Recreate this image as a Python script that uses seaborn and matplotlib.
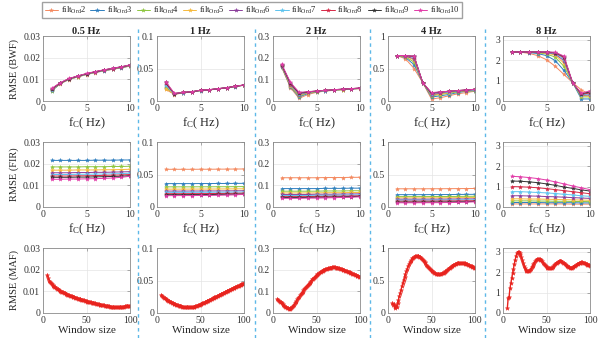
import matplotlib
matplotlib.use("Agg")
import matplotlib.pyplot as plt
from matplotlib.lines import Line2D
import seaborn as sns
import numpy as np

# ---------------- data ----------------
freqs = ["0.5 Hz", "1 Hz", "2 Hz", "4 Hz", "8 Hz"]
orders = ["2", "3", "4", "5", "6", "7", "8", "9", "10"]
fc = [1, 2, 3, 4, 5, 6, 7, 8, 9, 10]
window = list(range(5, 101))

bwf_05 = [
    [0.0050, 0.0080, 0.0099, 0.0111, 0.0122, 0.0131, 0.0139, 0.0146, 0.0153, 0.0161],
    [0.0046, 0.0081, 0.0100, 0.0112, 0.0123, 0.0132, 0.0140, 0.0147, 0.0154, 0.0162],
    [0.0048, 0.0081, 0.0101, 0.0113, 0.0124, 0.0133, 0.0141, 0.0148, 0.0155, 0.0163],
    [0.0050, 0.0082, 0.0101, 0.0113, 0.0124, 0.0133, 0.0141, 0.0149, 0.0156, 0.0164],
    [0.0052, 0.0082, 0.0102, 0.0114, 0.0125, 0.0134, 0.0142, 0.0149, 0.0156, 0.0164],
    [0.0053, 0.0083, 0.0102, 0.0114, 0.0125, 0.0134, 0.0142, 0.0150, 0.0157, 0.0165],
    [0.0055, 0.0083, 0.0103, 0.0115, 0.0126, 0.0135, 0.0143, 0.0150, 0.0157, 0.0165],
    [0.0056, 0.0084, 0.0103, 0.0115, 0.0126, 0.0135, 0.0143, 0.0151, 0.0158, 0.0166],
    [0.0058, 0.0085, 0.0104, 0.0116, 0.0127, 0.0136, 0.0144, 0.0151, 0.0158, 0.0167],
]
bwf_1 = [
    [0.0180, 0.0100, 0.0125, 0.0138, 0.0160, 0.0170, 0.0185, 0.0200, 0.0222, 0.0242],
    [0.0205, 0.0105, 0.0127, 0.0139, 0.0161, 0.0171, 0.0186, 0.0201, 0.0223, 0.0243],
    [0.0220, 0.0108, 0.0128, 0.0140, 0.0162, 0.0172, 0.0187, 0.0202, 0.0224, 0.0244],
    [0.0190, 0.0110, 0.0129, 0.0141, 0.0162, 0.0172, 0.0187, 0.0203, 0.0224, 0.0245],
    [0.0250, 0.0112, 0.0130, 0.0142, 0.0163, 0.0173, 0.0188, 0.0203, 0.0225, 0.0245],
    [0.0240, 0.0113, 0.0130, 0.0142, 0.0163, 0.0173, 0.0188, 0.0204, 0.0225, 0.0246],
    [0.0270, 0.0114, 0.0131, 0.0143, 0.0164, 0.0174, 0.0189, 0.0204, 0.0226, 0.0246],
    [0.0285, 0.0115, 0.0131, 0.0143, 0.0164, 0.0174, 0.0189, 0.0205, 0.0226, 0.0247],
    [0.0300, 0.0116, 0.0132, 0.0144, 0.0165, 0.0175, 0.0190, 0.0205, 0.0227, 0.0248],
]
bwf_2 = [
    [0.155, 0.062, 0.012, 0.030, 0.040, 0.046, 0.049, 0.052, 0.055, 0.057],
    [0.158, 0.066, 0.018, 0.035, 0.042, 0.047, 0.050, 0.053, 0.055, 0.058],
    [0.160, 0.068, 0.023, 0.038, 0.043, 0.047, 0.050, 0.053, 0.056, 0.058],
    [0.162, 0.071, 0.027, 0.039, 0.044, 0.048, 0.051, 0.053, 0.056, 0.058],
    [0.163, 0.074, 0.030, 0.040, 0.045, 0.048, 0.051, 0.054, 0.056, 0.059],
    [0.165, 0.077, 0.033, 0.041, 0.045, 0.048, 0.051, 0.054, 0.056, 0.059],
    [0.166, 0.080, 0.035, 0.042, 0.046, 0.049, 0.052, 0.054, 0.057, 0.059],
    [0.167, 0.083, 0.037, 0.042, 0.046, 0.049, 0.052, 0.055, 0.057, 0.060],
    [0.170, 0.086, 0.040, 0.043, 0.046, 0.049, 0.052, 0.055, 0.057, 0.060],
]
bwf_4 = [
    [0.70, 0.65, 0.50, 0.28, 0.03, 0.05, 0.08, 0.11, 0.13, 0.15],
    [0.70, 0.67, 0.56, 0.28, 0.06, 0.08, 0.10, 0.13, 0.15, 0.16],
    [0.70, 0.68, 0.60, 0.28, 0.08, 0.10, 0.12, 0.14, 0.15, 0.16],
    [0.70, 0.69, 0.63, 0.28, 0.09, 0.11, 0.13, 0.15, 0.16, 0.17],
    [0.70, 0.69, 0.65, 0.28, 0.10, 0.12, 0.14, 0.15, 0.16, 0.17],
    [0.70, 0.70, 0.67, 0.28, 0.11, 0.13, 0.14, 0.15, 0.17, 0.17],
    [0.70, 0.70, 0.68, 0.28, 0.12, 0.13, 0.15, 0.16, 0.17, 0.18],
    [0.70, 0.70, 0.69, 0.28, 0.12, 0.14, 0.15, 0.16, 0.17, 0.18],
    [0.70, 0.70, 0.69, 0.28, 0.13, 0.14, 0.15, 0.16, 0.17, 0.18],
]
bwf_8 = [
    [2.40, 2.39, 2.33, 2.22, 2.02, 1.70, 1.30, 0.90, 0.55, 0.30],
    [2.40, 2.40, 2.37, 2.32, 2.22, 1.98, 1.50, 0.90, 0.10, 0.10],
    [2.40, 2.40, 2.39, 2.36, 2.30, 2.15, 1.70, 0.90, 0.20, 0.20],
    [2.40, 2.40, 2.40, 2.38, 2.34, 2.25, 1.85, 0.90, 0.25, 0.25],
    [2.40, 2.40, 2.40, 2.39, 2.36, 2.30, 1.97, 0.90, 0.28, 0.30],
    [2.40, 2.40, 2.40, 2.40, 2.38, 2.33, 2.05, 0.90, 0.30, 0.35],
    [2.40, 2.40, 2.40, 2.40, 2.39, 2.35, 2.12, 0.90, 0.32, 0.40],
    [2.40, 2.40, 2.40, 2.40, 2.40, 2.37, 2.17, 0.90, 0.35, 0.45],
    [2.40, 2.40, 2.40, 2.40, 2.40, 2.38, 2.20, 0.90, 0.38, 0.50],
]

fir_05 = [
    [0.0345, 0.0345, 0.0345, 0.0345, 0.0345, 0.0346, 0.0346, 0.0346, 0.0347, 0.0347],
    [0.0215, 0.0215, 0.0215, 0.0215, 0.0215, 0.0216, 0.0216, 0.0216, 0.0217, 0.0217],
    [0.0185, 0.0185, 0.0185, 0.0185, 0.0186, 0.0186, 0.0186, 0.0187, 0.0187, 0.0188],
    [0.0170, 0.0170, 0.0170, 0.0171, 0.0171, 0.0171, 0.0172, 0.0172, 0.0173, 0.0174],
    [0.0158, 0.0158, 0.0158, 0.0159, 0.0159, 0.0160, 0.0160, 0.0161, 0.0162, 0.0163],
    [0.0150, 0.0150, 0.0150, 0.0151, 0.0151, 0.0152, 0.0152, 0.0153, 0.0154, 0.0156],
    [0.0143, 0.0143, 0.0143, 0.0144, 0.0144, 0.0145, 0.0146, 0.0147, 0.0148, 0.0150],
    [0.0137, 0.0137, 0.0137, 0.0138, 0.0138, 0.0139, 0.0140, 0.0141, 0.0142, 0.0145],
    [0.0128, 0.0128, 0.0129, 0.0129, 0.0130, 0.0131, 0.0132, 0.0134, 0.0137, 0.0142],
]
fir_1 = [
    [0.0580, 0.0580, 0.0580, 0.0580, 0.0581, 0.0581, 0.0582, 0.0583, 0.0584, 0.0585],
    [0.0360, 0.0360, 0.0360, 0.0360, 0.0361, 0.0361, 0.0362, 0.0362, 0.0363, 0.0364],
    [0.0310, 0.0310, 0.0310, 0.0310, 0.0311, 0.0311, 0.0312, 0.0312, 0.0313, 0.0314],
    [0.0275, 0.0275, 0.0275, 0.0276, 0.0276, 0.0276, 0.0277, 0.0278, 0.0279, 0.0280],
    [0.0245, 0.0245, 0.0245, 0.0246, 0.0246, 0.0247, 0.0247, 0.0248, 0.0249, 0.0250],
    [0.0225, 0.0225, 0.0225, 0.0226, 0.0226, 0.0227, 0.0227, 0.0228, 0.0229, 0.0231],
    [0.0205, 0.0205, 0.0205, 0.0206, 0.0206, 0.0207, 0.0208, 0.0209, 0.0211, 0.0214],
    [0.0190, 0.0190, 0.0190, 0.0191, 0.0191, 0.0192, 0.0193, 0.0195, 0.0197, 0.0200],
    [0.0175, 0.0175, 0.0176, 0.0176, 0.0177, 0.0178, 0.0180, 0.0183, 0.0187, 0.0195],
]
fir_2 = [
    [0.135, 0.135, 0.135, 0.135, 0.135, 0.136, 0.136, 0.136, 0.137, 0.137],
    [0.085, 0.085, 0.085, 0.085, 0.085, 0.086, 0.086, 0.086, 0.087, 0.087],
    [0.073, 0.073, 0.073, 0.073, 0.073, 0.074, 0.074, 0.074, 0.075, 0.075],
    [0.065, 0.065, 0.065, 0.065, 0.065, 0.066, 0.066, 0.066, 0.067, 0.067],
    [0.058, 0.058, 0.058, 0.058, 0.059, 0.059, 0.059, 0.060, 0.060, 0.061],
    [0.053, 0.053, 0.053, 0.053, 0.054, 0.054, 0.054, 0.055, 0.055, 0.056],
    [0.048, 0.048, 0.048, 0.048, 0.049, 0.049, 0.050, 0.050, 0.051, 0.052],
    [0.044, 0.044, 0.044, 0.044, 0.045, 0.045, 0.046, 0.047, 0.048, 0.049],
    [0.040, 0.040, 0.040, 0.041, 0.041, 0.042, 0.043, 0.044, 0.045, 0.047],
]
fir_4 = [
    [0.280, 0.280, 0.280, 0.280, 0.281, 0.281, 0.282, 0.283, 0.284, 0.285],
    [0.190, 0.190, 0.190, 0.190, 0.191, 0.191, 0.192, 0.193, 0.194, 0.195],
    [0.160, 0.160, 0.160, 0.160, 0.161, 0.161, 0.162, 0.163, 0.164, 0.165],
    [0.140, 0.140, 0.140, 0.140, 0.141, 0.141, 0.142, 0.143, 0.144, 0.145],
    [0.120, 0.120, 0.120, 0.120, 0.121, 0.121, 0.122, 0.123, 0.124, 0.125],
    [0.105, 0.105, 0.105, 0.105, 0.106, 0.106, 0.107, 0.108, 0.109, 0.110],
    [0.090, 0.090, 0.090, 0.091, 0.091, 0.092, 0.093, 0.094, 0.095, 0.097],
    [0.075, 0.075, 0.075, 0.076, 0.076, 0.077, 0.078, 0.080, 0.082, 0.085],
    [0.065, 0.065, 0.065, 0.066, 0.066, 0.067, 0.069, 0.071, 0.075, 0.080],
]
fir_8 = [
    [0.15, 0.15, 0.15, 0.15, 0.15, 0.15, 0.15, 0.14, 0.14, 0.14],
    [0.22, 0.22, 0.22, 0.22, 0.21, 0.21, 0.21, 0.21, 0.20, 0.20],
    [0.30, 0.30, 0.30, 0.29, 0.29, 0.28, 0.28, 0.27, 0.27, 0.26],
    [0.40, 0.40, 0.39, 0.39, 0.38, 0.37, 0.36, 0.35, 0.34, 0.33],
    [0.55, 0.55, 0.54, 0.53, 0.51, 0.50, 0.48, 0.46, 0.44, 0.42],
    [0.75, 0.75, 0.73, 0.71, 0.69, 0.66, 0.62, 0.59, 0.55, 0.52],
    [1.00, 0.99, 0.97, 0.94, 0.90, 0.85, 0.80, 0.75, 0.70, 0.65],
    [1.27, 1.26, 1.23, 1.19, 1.13, 1.06, 0.98, 0.91, 0.84, 0.78],
    [1.50, 1.48, 1.44, 1.39, 1.32, 1.23, 1.13, 1.03, 0.94, 0.85],
]

maf_05 = [
    0.0175, 0.0160, 0.0150, 0.0143, 0.0138, 0.0133, 0.0129, 0.0125, 0.0121, 0.0118,
    0.0115, 0.0112, 0.0109, 0.0106, 0.0103, 0.0101, 0.0099, 0.0097, 0.0095, 0.0093,
    0.0091, 0.0089, 0.0087, 0.0085, 0.0083, 0.0081, 0.0080, 0.0078, 0.0077, 0.0075,
    0.0074, 0.0072, 0.0071, 0.0069, 0.0068, 0.0066, 0.0065, 0.0064, 0.0063, 0.0061,
    0.0060, 0.0059, 0.0058, 0.0057, 0.0055, 0.0054, 0.0053, 0.0052, 0.0051, 0.0050,
    0.0049, 0.0048, 0.0047, 0.0046, 0.0045, 0.0044, 0.0043, 0.0042, 0.0041, 0.0040,
    0.0039, 0.0038, 0.0037, 0.0036, 0.0035, 0.0035, 0.0034, 0.0033, 0.0033, 0.0032,
    0.0031, 0.0031, 0.0030, 0.0030, 0.0030, 0.0029, 0.0029, 0.0029, 0.0029, 0.0029,
    0.0029, 0.0029, 0.0029, 0.0029, 0.0029, 0.0029, 0.0030, 0.0030, 0.0030, 0.0031,
    0.0031, 0.0031, 0.0032, 0.0032, 0.0033, 0.0033,
]
maf_1 = [
    0.0280, 0.0265, 0.0251, 0.0238, 0.0226, 0.0215, 0.0205, 0.0196, 0.0188, 0.0180,
    0.0172, 0.0165, 0.0158, 0.0152, 0.0146, 0.0140, 0.0135, 0.0130, 0.0125, 0.0120,
    0.0115, 0.0111, 0.0107, 0.0103, 0.0100, 0.0097, 0.0094, 0.0092, 0.0090, 0.0089,
    0.0088, 0.0088, 0.0088, 0.0089, 0.0090, 0.0092, 0.0094, 0.0097, 0.0100, 0.0104,
    0.0108, 0.0113, 0.0118, 0.0123, 0.0129, 0.0135, 0.0141, 0.0147, 0.0153, 0.0159,
    0.0165, 0.0171, 0.0178, 0.0184, 0.0191, 0.0198, 0.0205, 0.0212, 0.0218, 0.0225,
    0.0232, 0.0239, 0.0246, 0.0253, 0.0259, 0.0266, 0.0273, 0.0280, 0.0286, 0.0293,
    0.0300, 0.0307, 0.0313, 0.0320, 0.0326, 0.0333, 0.0339, 0.0346, 0.0352, 0.0359,
    0.0365, 0.0371, 0.0377, 0.0384, 0.0390, 0.0396, 0.0402, 0.0409, 0.0415, 0.0421,
    0.0428, 0.0434, 0.0441, 0.0447, 0.0453, 0.0460,
]
maf_2 = [
    0.065, 0.061, 0.057, 0.053, 0.049, 0.045, 0.041, 0.037, 0.034, 0.030,
    0.027, 0.024, 0.022, 0.020, 0.020, 0.021, 0.024, 0.028, 0.033, 0.039,
    0.045, 0.051, 0.057, 0.063, 0.069, 0.075, 0.081, 0.087, 0.093, 0.099,
    0.105, 0.110, 0.115, 0.120, 0.125, 0.130, 0.135, 0.140, 0.145, 0.150,
    0.155, 0.159, 0.163, 0.167, 0.171, 0.175, 0.178, 0.181, 0.184, 0.187,
    0.190, 0.193, 0.195, 0.198, 0.200, 0.202, 0.204, 0.205, 0.206, 0.208,
    0.209, 0.210, 0.210, 0.211, 0.211, 0.211, 0.211, 0.210, 0.210, 0.209,
    0.208, 0.207, 0.205, 0.204, 0.202, 0.200, 0.199, 0.197, 0.195, 0.194,
    0.192, 0.190, 0.188, 0.187, 0.185, 0.183, 0.181, 0.179, 0.178, 0.176,
    0.174, 0.172, 0.170, 0.169, 0.167, 0.165,
]
maf_4 = [
    0.150, 0.120, 0.140, 0.070, 0.110, 0.100, 0.160, 0.200, 0.260, 0.310,
    0.360, 0.410, 0.460, 0.510, 0.560, 0.600, 0.640, 0.680, 0.720, 0.750,
    0.780, 0.800, 0.820, 0.840, 0.850, 0.860, 0.870, 0.870, 0.875, 0.875,
    0.870, 0.865, 0.855, 0.845, 0.830, 0.815, 0.800, 0.780, 0.765, 0.745,
    0.730, 0.710, 0.695, 0.680, 0.665, 0.650, 0.640, 0.630, 0.620, 0.613,
    0.607, 0.603, 0.600, 0.598, 0.598, 0.600, 0.603, 0.608, 0.615, 0.623,
    0.632, 0.642, 0.652, 0.663, 0.674, 0.685, 0.696, 0.707, 0.717, 0.727,
    0.736, 0.744, 0.751, 0.757, 0.762, 0.766, 0.769, 0.771, 0.772, 0.772,
    0.771, 0.769, 0.766, 0.762, 0.758, 0.753, 0.748, 0.742, 0.736, 0.730,
    0.724, 0.718, 0.712, 0.706, 0.700, 0.694,
]
maf_8 = [
    0.25, 0.75, 0.80, 1.20, 1.45, 1.70, 1.95, 2.15, 2.40, 2.60,
    2.80, 2.92, 3.00, 3.00, 2.95, 2.85, 2.72, 2.58, 2.44, 2.31,
    2.20, 2.12, 2.07, 2.05, 2.05, 2.07, 2.11, 2.17, 2.24, 2.32,
    2.40, 2.47, 2.53, 2.58, 2.62, 2.64, 2.65, 2.64, 2.61, 2.57,
    2.52, 2.46, 2.40, 2.34, 2.29, 2.25, 2.21, 2.19, 2.18, 2.18,
    2.19, 2.21, 2.25, 2.29, 2.34, 2.39, 2.43, 2.47, 2.50, 2.52,
    2.53, 2.53, 2.52, 2.50, 2.47, 2.43, 2.39, 2.35, 2.31, 2.28,
    2.25, 2.23, 2.22, 2.21, 2.22, 2.23, 2.25, 2.28, 2.31, 2.35,
    2.38, 2.41, 2.44, 2.46, 2.47, 2.48, 2.48, 2.47, 2.46, 2.44,
    2.41, 2.39, 2.37, 2.35, 2.33, 2.31,
]

yticks = [[0, 0.01, 0.02, 0.03], [0, 0.05, 0.1], [0, 0.1, 0.2, 0.3], [0, 0.5, 1], [0, 1, 2, 3]]
ytick_labels = [["0", "0.01", "0.02", "0.03"], ["0", "0.05", "0.1"], ["0", "0.1", "0.2", "0.3"],
                ["0", "0.5", "1"], ["0", "1", "2", "3"]]
ytops = [0.03, 0.1, 0.3, 1.0, 3.18]
row_labels = ["RMSE (BWF)", "RMSE (FIR)", "RMSE (MAF)"]

bwf = [bwf_05, bwf_1, bwf_2, bwf_4, bwf_8]
fir = [fir_05, fir_1, fir_2, fir_4, fir_8]
maf = [maf_05, maf_1, maf_2, maf_4, maf_8]

colors = ["#F4895F", "#2E7EBF", "#8DC63F", "#F6B93B", "#8B3D9B",
          "#5CC3EE", "#D62846", "#333333", "#E23BA8"]
maf_color = "#E8231E"

# ---------------- style ----------------
sns.set_theme(style="white")
plt.rcParams["font.family"] = ["Liberation Serif", "DejaVu Serif"]
plt.rcParams["mathtext.fontset"] = "custom"
plt.rcParams["mathtext.rm"] = "Liberation Serif"
plt.rcParams["mathtext.it"] = "Liberation Serif:italic"

W, H = 600, 338
fig = plt.figure(figsize=(W / 100, H / 100), dpi=100)

col_left = [43, 157, 273, 388, 503]
ax_w = 87
row_top = [36, 142, 248]
ax_h = 65


def make_ax(r, c):
    l = col_left[c]
    t = row_top[r]
    ax = fig.add_axes([l / W, 1 - (t + ax_h) / H, ax_w / W, ax_h / H])
    for s in ax.spines.values():
        s.set_color("#8a8a8a")
        s.set_linewidth(0.6)
    ax.tick_params(direction="in", length=2, width=0.5, labelsize=7, pad=2,
                   colors="#8a8a8a", labelcolor="#333333", top=True, right=True)
    ax.grid(True, color="#e4e4e4", linewidth=0.5)
    ax.set_axisbelow(True)
    return ax


handles = None
for r in range(3):
    for c in range(5):
        ax = make_ax(r, c)
        if r < 2:
            data = bwf[c] if r == 0 else fir[c]
            for k, series in enumerate(data):
                sns.lineplot(x=fc, y=series, ax=ax, color=colors[k], marker="*",
                             markersize=3.0, markeredgewidth=0.3,
                             markeredgecolor=colors[k], linewidth=0.7,
                             legend=False, label=r"filt$_{\mathrm{Ord}}$" + orders[k])
            if r == 0 and c == 0:
                handles = list(ax.get_lines())
            ax.set_xlim(0, 10)
            ax.set_xticks([0, 5, 10])
            ax.set_xticklabels(["0", "5", "10"])
            ax.set_xlabel(r"f$_{\mathrm{C}}$( Hz)", fontsize=9, labelpad=2)
        else:
            sns.lineplot(x=window, y=maf[c], ax=ax, color=maf_color, marker="*",
                         markersize=3.2, markeredgewidth=0.3,
                         markeredgecolor=maf_color, linewidth=1.0, legend=False)
            ax.set_xlim(0, 100)
            ax.set_xticks([0, 50, 100])
            ax.set_xticklabels(["0", "50", "100"])
            ax.set_xlabel("Window size", fontsize=8, labelpad=1)
        ax.set_ylim(0, ytops[c])
        ax.set_yticks(yticks[c])
        ax.set_yticklabels(ytick_labels[c])
        if r == 0:
            ax.set_title(freqs[c], fontsize=7.5, fontweight="bold", pad=1.5)
        if c == 0:
            ax.set_ylabel(row_labels[r], fontsize=7.5, labelpad=3)
        else:
            ax.set_ylabel("")

labels = [h.get_label() for h in handles]
fig.legend(handles, labels, ncol=9, loc="upper left",
           bbox_to_anchor=(42 / W, 1 - 2 / H), fontsize=6.1,
           frameon=True, fancybox=False, edgecolor="#8a8a8a",
           handlelength=1.6, handletextpad=0.3, columnspacing=0.55,
           borderpad=0.3, borderaxespad=0.0)

# dashed separators between frequency columns
for xs in [138, 255, 370, 485]:
    fig.add_artist(Line2D([xs / W, xs / W], [0, 1 - 26 / H], transform=fig.transFigure,
                          color="#5DB8E8", linewidth=1.0, linestyle=(0, (2.5, 2.5))))

fig.savefig("out.png", dpi=100, facecolor="white")
